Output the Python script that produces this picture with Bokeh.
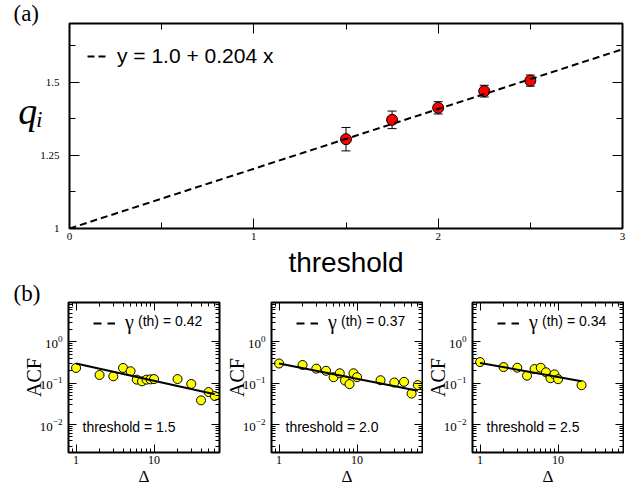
import math
from bokeh.plotting import figure
from bokeh.models import (ColumnDataSource, FixedTicker, CustomJSTickFormatter, LinearAxis, LogAxis,
                          Legend, LegendItem, Label, Whisker, TeeHead, LogTickFormatter,
                          PrintfTickFormatter, Range1d, Title)
from bokeh.layouts import column, row
from bokeh.embed import file_html
from bokeh.resources import INLINE

# ---------------- data: panel (a) ----------------
threshold = [1.5, 1.75, 2.0, 2.25, 2.5]
q_i = [1.305, 1.371, 1.412, 1.469, 1.505]
q_err = [0.040, 0.030, 0.021, 0.020, 0.019]
fit_intercept = 1.0
fit_slope = 0.204
fit_x_span = [0.0, 3.0]
a_xticks = [0, 1, 2, 3]
a_xminor = [0.5, 1.5, 2.5]
a_yticks = [1, 1.25, 1.5]
a_yminor = [1.125, 1.375, 1.625]

# ---------------- data: panel (b) ----------------
delta_15 = [1, 2, 3, 4, 5, 6, 7, 8, 9, 10, 20, 30, 40, 50, 60]
acf_15 = [0.234, 0.158, 0.147, 0.234, 0.195, 0.122, 0.111, 0.122, 0.124, 0.126,
          0.126, 0.096, 0.0385, 0.061, 0.049]
gamma_15, amp_15 = 0.42, 0.30

delta_20 = [1, 2, 3, 4, 5, 6, 7, 8, 9, 10, 20, 30, 40, 50, 60]
acf_20 = [0.30, 0.276, 0.225, 0.20, 0.14, 0.174, 0.116, 0.095, 0.174, 0.14,
          0.118, 0.104, 0.108, 0.056, 0.090]
gamma_20, amp_20 = 0.37, 0.30

delta_25 = [1, 2, 3, 4, 5, 6, 7, 8, 9, 10, 20]
acf_25 = [0.325, 0.246, 0.237, 0.152, 0.22, 0.237, 0.184, 0.132, 0.164, 0.125, 0.0895]
gamma_25, amp_25 = 0.34, 0.31

b_xticks = [1, 10]
b_xminor = [0.9] + [k for k in range(2, 10)] + [10 * k for k in range(2, 7)]
b_yticks = [0.01, 0.1, 1]
b_yminor = [k * 10.0 ** e for e in (-3, -2, -1, 0) for k in range(2, 10)]

SERIF = "Liberation Serif"
SANS = "Liberation Sans"
BLANK = CustomJSTickFormatter(code="return '';")
NAN = float("nan")


def style_axis(ax, major_in, minor_in, show_labels=True, size="10px", standoff=4):
    ax.major_tick_in = major_in
    ax.major_tick_out = 0
    ax.minor_tick_in = minor_in
    ax.minor_tick_out = 0
    ax.major_tick_line_color = "black"
    ax.minor_tick_line_color = "black"
    ax.major_tick_line_width = 1
    ax.minor_tick_line_width = 1
    ax.axis_line_color = None
    ax.major_label_text_font = SERIF
    if show_labels:
        ax.major_label_text_color = "black"
        ax.major_label_text_font_size = size
        ax.major_label_standoff = standoff
    else:
        ax.formatter = BLANK
        ax.major_label_text_color = None
        ax.major_label_text_font_size = "1px"
        ax.major_label_standoff = 0


def corner_title(p, text, offset, standoff):
    t = Title(text=text, align="left", offset=offset, standoff=standoff, text_font=SERIF,
              text_font_size="23px", text_font_style="normal", text_color="black",
              text_line_height=0.7)
    p.add_layout(t, "above")


# ---------------- top figure (a) ----------------
top = figure(width=631, height=280, x_range=Range1d(0, 3), y_range=Range1d(1, 1.7),
             output_backend="svg", toolbar_location=None,
             min_border_left=69, min_border_right=9, min_border_top=23, min_border_bottom=43)
top.xgrid.visible = False
top.ygrid.visible = False
top.outline_line_color = "black"
top.outline_line_width = 2
top.outline_line_alpha = 1
top.background_fill_color = "white"
top.border_fill_color = "white"

xt = FixedTicker(ticks=a_xticks, minor_ticks=a_xminor)
yt = FixedTicker(ticks=a_yticks, minor_ticks=a_yminor)
fmt = CustomJSTickFormatter(code="return tick.toString();")
top.xaxis.ticker = xt
top.yaxis.ticker = yt
top.xaxis.formatter = fmt
top.yaxis.formatter = fmt
style_axis(top.xaxis[0], 10, 6, True, "11px", 4)
style_axis(top.yaxis[0], 10, 6, True, "11px", 10)
top.xaxis.axis_label = "threshold"
top.xaxis.axis_label_text_font = SANS
top.xaxis.axis_label_text_font_size = "28px"
top.xaxis.axis_label_text_font_style = "normal"
top.xaxis.axis_label_text_color = "black"
top.xaxis.axis_label_standoff = 4
top.yaxis.axis_label = "qᵢ\n\u00a0"
top.yaxis.axis_label_orientation = "horizontal"
top.yaxis.axis_label_text_font = SERIF
top.yaxis.axis_label_text_font_style = "italic"
top.yaxis.axis_label_text_font_size = "38px"
top.yaxis.axis_label_text_line_height = 0.7
top.yaxis.axis_label_text_color = "black"
top.yaxis.axis_label_standoff = -6
ra = LinearAxis(ticker=yt)
style_axis(ra, 10, 6, False)
top.add_layout(ra, "right")
aa = LinearAxis(ticker=xt)
style_axis(aa, 10, 6, False)
top.add_layout(aa, "above")
corner_title(top, "(a)", -56, -5)

src_a = ColumnDataSource(dict(x=threshold, y=q_i,
                              lo=[v - e for v, e in zip(q_i, q_err)],
                              hi=[v + e for v, e in zip(q_i, q_err)]))
wh = Whisker(base="x", lower="lo", upper="hi", source=src_a, line_color="black", line_width=1,
             upper_head=TeeHead(size=9, line_color="black", line_width=1),
             lower_head=TeeHead(size=9, line_color="black", line_width=1))
top.add_layout(wh)
top.scatter("x", "y", source=src_a, size=11, fill_color="red", line_color="black", line_width=1)
fit_y = [fit_intercept + fit_slope * v for v in fit_x_span]
fit_r = top.line(fit_x_span, fit_y, line_color="black", line_width=2, line_dash="7 4")

leg = Legend(items=[LegendItem(label="y = 1.0 + 0.204 x", renderers=[fit_r])],
             location=(18, 160), padding=0, margin=0, glyph_width=22, glyph_height=22,
             label_height=22, label_standoff=8, border_line_alpha=0, background_fill_alpha=0,
             label_text_font=SANS, label_text_font_size="21px", label_text_color="black")
top.add_layout(leg)


# ---------------- bottom panels (b) ----------------
def panel(delta, acf, gamma, amp, th_text, width, bl, br, first=False):
    p = figure(width=width, height=208, x_axis_type="log", y_axis_type="log",
               x_range=Range1d(0.8, 69), y_range=Range1d(0.0021, 9),
               output_backend="svg", toolbar_location=None,
               min_border_left=bl, min_border_right=br, min_border_top=22, min_border_bottom=35)
    p.xgrid.visible = False
    p.ygrid.visible = False
    p.outline_line_color = "black"
    p.outline_line_width = 2
    p.outline_line_alpha = 1
    p.background_fill_color = "white"
    p.border_fill_color = "white"
    bxt = FixedTicker(ticks=b_xticks, minor_ticks=b_xminor)
    byt = FixedTicker(ticks=b_yticks, minor_ticks=b_yminor)
    p.xaxis.ticker = bxt
    p.yaxis.ticker = byt
    p.xaxis.formatter = PrintfTickFormatter(format="%d")
    p.yaxis.formatter = LogTickFormatter()
    style_axis(p.xaxis[0], 8, 4, True, "12px", 3)
    style_axis(p.yaxis[0], 8, 4, True, "13px", 6)
    p.xaxis.axis_label = "Δ"
    p.xaxis.axis_label_text_font = SERIF
    p.xaxis.axis_label_text_font_size = "17px"
    p.xaxis.axis_label_text_font_style = "normal"
    p.xaxis.axis_label_text_color = "black"
    p.xaxis.axis_label_standoff = 0
    p.yaxis.axis_label = "ACF"
    p.yaxis.axis_label_text_font = SERIF
    p.yaxis.axis_label_text_font_size = "20px"
    p.yaxis.axis_label_text_font_style = "normal"
    p.yaxis.axis_label_text_color = "black"
    p.yaxis.axis_label_standoff = -8
    r_ax = LogAxis(ticker=byt)
    style_axis(r_ax, 8, 4, False)
    p.add_layout(r_ax, "right")
    a_ax = LogAxis(ticker=bxt)
    style_axis(a_ax, 8, 4, False)
    p.add_layout(a_ax, "above")
    if first:
        corner_title(p, "(b)", -55, -7)

    src = ColumnDataSource(dict(x=delta, y=acf))
    fx = [delta[0], delta[-1]]
    fy = [amp * v ** (-gamma) for v in fx]
    p.scatter("x", "y", source=src, size=9, fill_color="#ffff00", line_color="black", line_width=1)
    p.line(fx, fy, line_color="black", line_width=2)
    dummy = p.line(x=[NAN], y=[NAN], line_color="black", line_width=2, line_dash="8 6")
    lg = Legend(items=[LegendItem(label="γ", renderers=[dummy])], location=(25, 118),
                padding=0, margin=0, glyph_width=22, glyph_height=20, label_height=20,
                label_standoff=10, border_line_alpha=0, background_fill_alpha=0,
                label_text_font=SERIF, label_text_font_size="20px", label_text_color="black")
    p.add_layout(lg)
    p.add_layout(Label(x=69.5, y=124, x_units="screen", y_units="screen",
                       text="(th) = %.2f" % gamma, text_font=SANS, text_font_size="14px",
                       text_color="black"))
    p.add_layout(Label(x=14, y=18, x_units="screen", y_units="screen", text=th_text,
                       text_font=SANS, text_font_size="14px", text_color="black"))
    return p


p1 = panel(delta_15, acf_15, gamma_15, amp_15, "threshold = 1.5", 221, 68, 2, first=True)
p2 = panel(delta_20, acf_20, gamma_20, amp_20, "threshold = 2.0", 202, 50, 1)
p3 = panel(delta_25, acf_25, gamma_25, amp_25, "threshold = 2.5", 201, 49, 1)

layout = column(top, row(p1, p2, p3, spacing=0), spacing=0)
open("out.html", "w").write(file_html(layout, INLINE))
